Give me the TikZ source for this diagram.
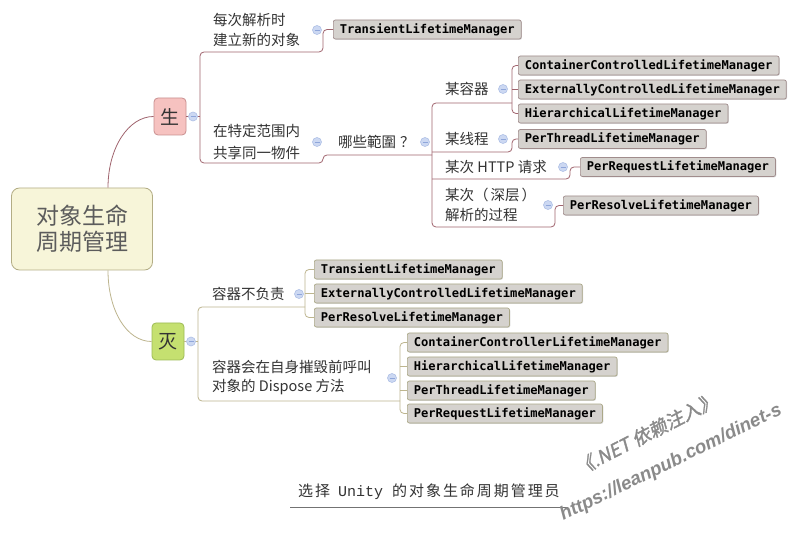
\documentclass[tikz,border=0pt]{standalone}
\usepackage{fontspec}
\usetikzlibrary{shadows}
\newfontfamily\cjk{Noto Sans CJK SC}
\newfontfamily\cjkls[LetterSpace=13]{Noto Sans CJK SC}
\newfontfamily\monob{DejaVu Sans Mono}
\newfontfamily\courf{Liberation Mono}
\newfontfamily\wmlat{Liberation Sans}
\newfontfamily\wmcjk[FakeSlant=0.2,FakeBold=1.5]{Noto Sans CJK SC}
\definecolor{slc}{HTML}{A0646E}
\definecolor{mlc}{HTML}{BDB58E}
\definecolor{boxfill}{HTML}{D5D2CE}
\definecolor{sbd}{HTML}{A08C8C}
\definecolor{mbd}{HTML}{ABA888}
\definecolor{rootfill}{HTML}{F7F5D9}
\definecolor{rootbd}{HTML}{B3AD85}
\definecolor{shengfill}{HTML}{F6C2C0}
\definecolor{shengbd}{HTML}{C98F8F}
\definecolor{miefill}{HTML}{C5E070}
\definecolor{miebd}{HTML}{9DBB55}
\definecolor{icfill}{HTML}{CCD8F2}
\definecolor{icbd}{HTML}{AFC0E6}
\definecolor{icm}{HTML}{8FA6DA}
\definecolor{txt}{HTML}{333333}
\definecolor{wm}{HTML}{8A8A8A}
\begin{document}
\begin{tikzpicture}[x=1pt,y=-1pt,
  rootbox/.style={draw=rootbd,fill=rootfill,rounded corners=8pt,line width=0.8pt,
    minimum width=141pt,minimum height=82pt,align=center,text=txt!80,
    font=\cjk\fontsize{23}{26}\selectfont},
  shengbox/.style={draw=shengbd,fill=shengfill,rounded corners=4pt,line width=0.8pt,
    minimum width=32pt,minimum height=37pt,inner sep=0pt,text=txt,
    font=\cjk\fontsize{19}{22}\selectfont},
  miebox/.style={draw=miebd,fill=miefill,rounded corners=4pt,line width=0.8pt,
    minimum width=32pt,minimum height=37pt,inner sep=0pt,text=txt,
    font=\cjk\fontsize{19}{22}\selectfont},
  topic/.style={anchor=west,inner sep=0pt,align=left,text=txt,
    font=\cjk\fontsize{14.5}{20}\selectfont},
  mgrbase/.style={anchor=west,fill=boxfill,rounded corners=2pt,line width=0.7pt,
    inner xsep=6.5pt,inner ysep=0pt,minimum height=19pt,text=black,
    font=\monob\bfseries\fontsize{12.1}{14}\selectfont,
    drop shadow={shadow xshift=0.8pt,shadow yshift=-0.8pt,opacity=0.3}},
  smgr/.style={mgrbase,draw=sbd},
  mmgr/.style={mgrbase,draw=mbd},
  colic/.style={circle,draw=icbd,fill=icfill,minimum size=9pt,inner sep=0pt,line width=0.6pt,
    path picture={\draw[icm,line width=0.9pt] ([xshift=2pt]path picture bounding box.west) -- ([xshift=-2pt]path picture bounding box.east);}},
  sline/.style={draw=slc,line width=0.8pt,rounded corners=4pt},
  mline/.style={draw=mlc,line width=0.8pt,rounded corners=4pt}
]
\useasboundingbox (0,0) rectangle (803,534);
\fill[white] (0,0) rectangle (803,534);

% main nodes
\node[rootbox] (root) at (82,229) {对象生命\\周期管理};
\node[shengbox] (sheng) at (170,116.5) {生};
\node[miebox] (mie) at (168,341.5) {灭};

% topics
\node[topic] (a1) at (213,30) {每次解析时\\建立新的对象};
\node[topic] (a2) at (213,142) {在特定范围内\\[2pt]共享同一物件};
\node[topic] (b) at (338,142) {哪些範圍\hspace{4pt}？};
\node[topic] (c1) at (445,89) {某容器};
\node[topic] (c2) at (445,139) {某线程};
\node[topic] (c3) at (445,167) {某次 HTTP 请求};
\node[topic] (c4) at (445,205) {某次（\hspace{2pt}深层\hspace{2pt}）\\解析的过程};
\node[topic] (d1) at (212,294) {容器不负责};
\node[topic,font=\cjk\fontsize{14.5}{19}\selectfont] (d2) at (212,377.5) {容器会在自身摧毁前呼叫\\对象的 Dispose 方法};

% manager boxes
\node[smgr] (tr1) at (333,29.5) {TransientLifetimeManager};
\node[smgr] (cc1) at (518,65.5) {ContainerControlledLifetimeManager};
\node[smgr] (ec1) at (518,89.5) {ExternallyControlledLifetimeManager};
\node[smgr] (hi1) at (518,113.5) {HierarchicalLifetimeManager};
\node[smgr] (pt1) at (518,139) {PerThreadLifetimeManager};
\node[smgr] (pr1) at (580,167) {PerRequestLifetimeManager};
\node[smgr] (ps1) at (563,205.5) {PerResolveLifetimeManager};
\node[mmgr] (tr2) at (314,269.5) {TransientLifetimeManager};
\node[mmgr] (ec2) at (314,293.5) {ExternallyControlledLifetimeManager};
\node[mmgr] (ps2) at (314,317.5) {PerResolveLifetimeManager};
\node[mmgr] (cc2) at (407,342.5) {ContainerControllerLifetimeManager};
\node[mmgr] (hi2) at (407,366.5) {HierarchicalLifetimeManager};
\node[mmgr] (pt2) at (407,390.5) {PerThreadLifetimeManager};
\node[mmgr] (pr2) at (407,413.5) {PerRequestLifetimeManager};

% junction coordinates
\coordinate (sj) at (200,116.5);
\coordinate (mj) at (198,341.5);
\coordinate (bj) at (432,155);
\coordinate (dj1) at (305,307);
\coordinate (dj2) at (400,401);

% connectors: sheng side
\draw[sline] ([xshift=26pt]root.north) .. controls +(0,-40) and +(-25,0) .. (sheng.west);
\draw[sline] (sheng.east) -- (sj);
\draw[sline] (tr1.west) -- (323,29.5) -- (323,52) -- (200,52) -- (200,163) -- (323,163) -- (323,155) -- (bj);
\draw[sline] (512,103) -- (432,103) -- (432,227) -- (555,227) -- (555,205.5) -- (ps1.west);
\draw[sline] (cc1.west) -- (512,65.5) -- (512,113.5) -- (hi1.west);
\draw[sline] (ec1.west) -- (512,89.5);
\draw[sline] (432,152) -- (512,152) -- (512,139) -- (pt1.west);
\draw[sline] (432,179) -- (570,179) -- (570,167) -- (pr1.west);

% connectors: mie side
\draw[mline] ([xshift=26pt]root.south) .. controls +(0,40) and +(-25,0) .. (mie.west);
\draw[mline] (mie.east) -- (mj);
\draw[mline] (dj1) -- (198,307) -- (198,401) -- (dj2);
\draw[mline] (tr2.west) -- (305,269.5) -- (305,317.5) -- (ps2.west);
\draw[mline] (ec2.west) -- (305,293.5);
\draw[mline] (cc2.west) -- (400,342.5) -- (400,413.5) -- (pr2.west);
\draw[mline] (hi2.west) -- (400,366.5);
\draw[mline] (pt2.west) -- (400,390.5);

% collapse icons
\node[colic] (is) at (193,116.5) {};
\node[colic] (ia1) at (317,30) {};
\node[colic] (ia2) at (317,142) {};
\node[colic] (ib) at (425,142) {};
\node[colic] (ic1) at (503,89) {};
\node[colic] (ic2) at (503,139) {};
\node[colic] (ic3) at (563,167) {};
\node[colic] (ic4) at (548,205) {};
\node[colic] (im) at (191,341.5) {};
\node[colic] (id1) at (299,294) {};
\node[colic] (id2) at (392,378) {};

% title
\node[anchor=west,inner sep=0pt,text=txt,font=\cjkls\fontsize{15}{18}\selectfont] (title) at (298,492)
  {选择\hspace{8pt}{\courf\addfontfeature{LetterSpace=0}\fontsize{15}{18}\selectfont Unity}\hspace{9pt}的对象生命周期管理员};
\draw[black!55,line width=0.7pt] (290,507) -- (568,507);

% watermark
\node[rotate=27,text=wm,inner sep=0pt,font=\wmcjk\fontsize{18.5}{20}\selectfont] (wm1) at (646,434) {《.NET 依赖注入》};
\node[rotate=26,text=wm,inner sep=0pt,font=\wmlat\bfseries\itshape\fontsize{18.7}{20}\selectfont] (wm2) at (671,463) {https://leanpub.com/dinet-s};
\end{tikzpicture}
\end{document}
